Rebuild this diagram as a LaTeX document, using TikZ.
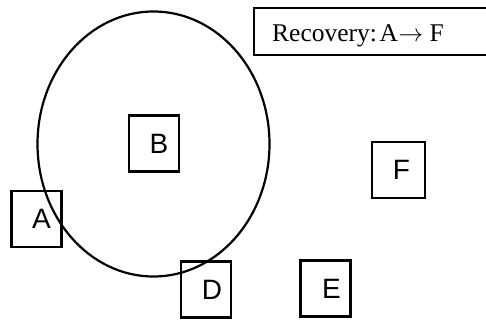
\documentclass[tikz,border=0pt]{standalone}
\usepackage{fontspec}
\setmainfont{Liberation Serif}
\newfontfamily\boxfont{Liberation Sans}
\begin{document}
\begin{tikzpicture}[x=1pt,y=-1pt,
  item/.style={draw, line width=2.2pt, rectangle, inner sep=0pt,
    minimum width=50pt, minimum height=56pt},
  tag/.style={font=\boxfont\fontsize{28}{28}\selectfont, inner sep=0pt},
  note/.style={draw, line width=2pt, rectangle, inner sep=0pt}]
\useasboundingbox (0,0) rectangle (486,323);

% region around B
\draw[line width=2.2pt] (153.5,144) ellipse [x radius=116pt, y radius=132.5pt];

% state boxes
\node[item] (A) at (36.5,219) {};
\node[tag] at ([xshift=5pt]A.center) {A};
\node[item] (B) at (154,143.5) {};
\node[tag] at ([xshift=5pt]B.center) {B};
\node[item] (D) at (206,289.5) {};
\node[tag] at ([xshift=6pt]D.center) {D};
\node[item] (E) at (325.5,288.5) {};
\node[tag] at ([xshift=6pt]E.center) {E};
\node[item, minimum width=53pt] (F) at (398.5,170) {};
\node[tag] at ([xshift=3pt]F.center) {F};

% recovery legend
\node[note, minimum width=236pt, minimum height=47pt, anchor=north west] (R) at (253,7.5) {};
\node[anchor=base west, inner sep=0pt, font=\fontsize{25.5}{25.5}\selectfont] (Rt) at (272,41.5)
  {Recovery:\kern2.5pt A\kern0.5pt$\rightarrow$ F};
\end{tikzpicture}
\end{document}
